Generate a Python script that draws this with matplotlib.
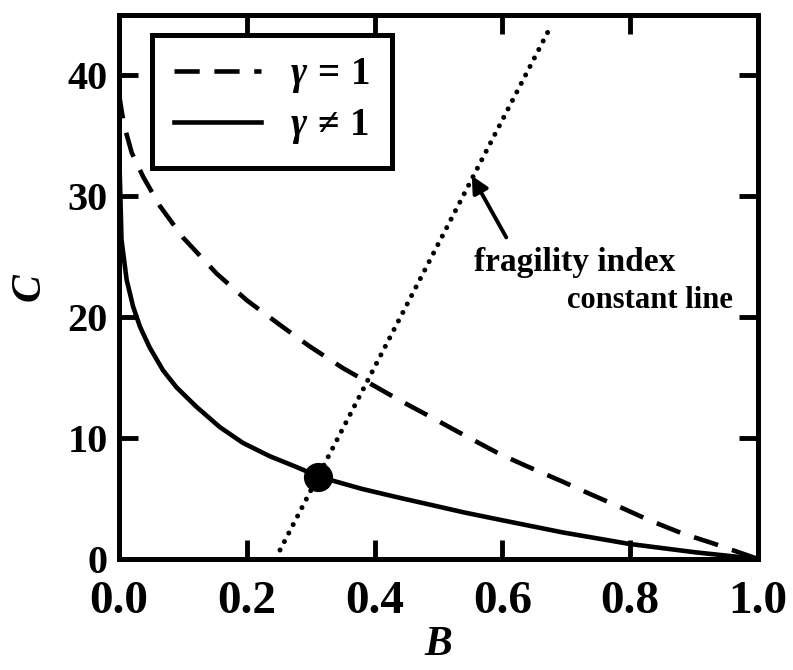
import matplotlib
matplotlib.use("Agg")
import matplotlib.pyplot as plt
import numpy as np

plt.rcParams['font.family'] = ['Liberation Serif', 'DejaVu Serif']
plt.rcParams['font.weight'] = 'bold'
plt.rcParams['mathtext.fontset'] = 'custom'
plt.rcParams['mathtext.rm'] = 'Liberation Serif:bold'
plt.rcParams['mathtext.bf'] = 'Liberation Serif:bold'
plt.rcParams['mathtext.it'] = 'Liberation Serif:italic'

# gamma = 1 (dashed)
B_eq = [0.0, 0.005, 0.01, 0.02, 0.038, 0.064, 0.10, 0.153, 0.20, 0.256, 0.298, 0.35, 0.40,
        0.44, 0.486, 0.538, 0.595, 0.637, 0.694, 0.736, 0.788, 0.83, 0.882, 0.929, 1.0]
C_eq = [38.5, 36.8, 35.5, 33.6, 31.6, 29.2, 26.6, 23.6, 21.4, 19.2, 17.6, 15.8, 14.3,
        13.1, 11.8, 10.3, 8.7, 7.7, 6.4, 5.4, 4.2, 3.2, 2.1, 1.3, 0.0]

# gamma != 1 (solid)
B_ne = [0.0003, 0.0012, 0.004, 0.012, 0.022, 0.033, 0.048, 0.069, 0.090, 0.121, 0.158,
        0.194, 0.236, 0.278, 0.309, 0.333, 0.38, 0.44, 0.486, 0.54, 0.60, 0.694, 0.798,
        0.902, 1.0]
C_ne = [46.0, 32.0, 26.4, 23.1, 20.9, 19.2, 17.5, 15.6, 14.2, 12.6, 10.9,
        9.6, 8.5, 7.6, 6.9, 6.5, 5.8, 5.05, 4.5, 3.85, 3.2, 2.2, 1.25, 0.55, 0.0]

# fragility index constant line (dotted)
B_line = [0.252, 0.677]
C_line = [0.74, 44.2]

# intersection point
B_pt = [0.311]
C_pt = [6.8]

fig = plt.figure(figsize=(7.93, 6.70), dpi=100)
ax = fig.add_axes([0.150, 0.1657, 0.806, 0.812])

ax.plot(B_eq, C_eq, color='black', lw=3.3, linestyle=(0, (5.5, 3.2)),
        label=r'$\gamma\,=\,1$')
ax.plot(B_ne, C_ne, color='black', lw=3.3, linestyle='-', label=r'$\gamma\,\neq\,1$',
        solid_joinstyle='round')
ax.plot(B_line, C_line, color='black', lw=3.6, linestyle=(0, (0.01, 1.9)),
        dash_capstyle='round')
ax.plot(B_pt, C_pt, 'o', color='black', markersize=20, zorder=5)

ax.annotate('', xy=(0.552, 31.7), xytext=(0.606, 26.6),
            arrowprops=dict(arrowstyle='-|>,head_length=1.0,head_width=0.5',
                            color='black', lw=2.8, shrinkA=0, shrinkB=0))
ax.text(0.7125, 24.5, 'fragility index', fontsize=24, fontweight='bold',
        ha='center', va='center')
ax.text(0.831, 21.4, 'constant line', fontsize=22, fontweight='bold',
        ha='center', va='center')

ax.set_xlim(0, 1.0)
ax.set_ylim(0, 45)
ax.set_xticks([0.0, 0.2, 0.4, 0.6, 0.8, 1.0])
ax.set_xticklabels(['0.0', '0.2', '0.4', '0.6', '0.8', '1.0'])
ax.set_yticks([0, 10, 20, 30, 40])
ax.tick_params(direction='in', length=13.5, width=3.5, top=True, right=True)
ax.tick_params(axis='x', labelsize=34, pad=16)
ax.tick_params(axis='y', labelsize=29, pad=8)
for lab in ax.get_xticklabels() + ax.get_yticklabels():
    lab.set_fontweight('bold')
for s in ax.spines.values():
    s.set_linewidth(3.6)

ax.set_xlabel('B', fontsize=30, fontweight='bold', fontstyle='italic', labelpad=2)
ax.set_ylabel('C', fontsize=30, fontweight='bold', fontstyle='italic', labelpad=14)

leg = ax.legend(loc='upper left', bbox_to_anchor=(0.052, 0.963), borderaxespad=0,
                fontsize=28, frameon=True, fancybox=False, handlelength=2.25,
                handletextpad=0.75, labelspacing=0.3, borderpad=0.55)
leg.get_frame().set_edgecolor('black')
leg.get_frame().set_linewidth(3.6)
leg.get_frame().set_alpha(1)

fig.savefig('out.png', dpi=100)
